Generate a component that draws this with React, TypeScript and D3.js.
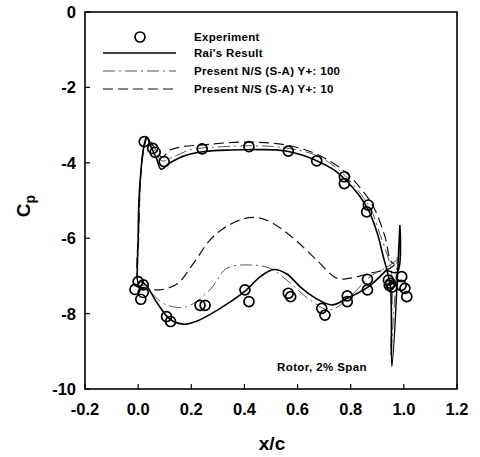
import React from "react";
import * as d3 from "d3";

// Measured pressure coefficients, rotor blade at 2% span
const expUpperX = [0.023, 0.055, 0.064, 0.098, 0.241, 0.417, 0.565, 0.672, 0.776, 0.776, 0.866, 0.86];
const expUpperCp = [-3.44, -3.62, -3.72, -3.97, -3.63, -3.57, -3.69, -3.95, -4.37, -4.55, -5.12, -5.3];
const expLowerX = [-0.012, 0.0, 0.019, 0.019, 0.01, 0.107, 0.122, 0.233, 0.252, 0.402, 0.417, 0.565, 0.574, 0.691, 0.703, 0.787, 0.787, 0.863, 0.863, 0.942, 0.95, 0.955, 0.945, 0.992, 0.99, 1.004, 1.011];
const expLowerCp = [-7.36, -7.15, -7.24, -7.44, -7.62, -8.08, -8.21, -7.78, -7.78, -7.37, -7.68, -7.46, -7.55, -7.86, -8.04, -7.53, -7.68, -7.09, -7.37, -7.11, -7.2, -7.3, -7.25, -7.02, -7.25, -7.33, -7.55];

// Rai's result: pressure side from trailing edge to leading edge, suction side back, trailing-edge spike
const raiX = [0.935, 0.866, 0.785, 0.73, 0.67, 0.61, 0.56, 0.51, 0.46, 0.4, 0.3, 0.22, 0.17, 0.12, 0.07, 0.03, 0.008, 0.0, 0.0, 0.003, 0.012, 0.022, 0.032, 0.05, 0.07, 0.086, 0.12, 0.18, 0.25, 0.35, 0.45, 0.55, 0.62, 0.68, 0.74, 0.78, 0.83, 0.87, 0.9, 0.923, 0.94, 0.95, 0.955, 0.985, 0.975, 0.935];
const raiCp = [-6.84, -7.29, -7.6, -7.77, -7.6, -7.29, -6.95, -6.83, -7.02, -7.42, -7.9, -8.2, -8.28, -8.15, -7.7, -7.25, -7.15, -7.2, -6.0, -5.0, -4.1, -3.55, -3.32, -3.6, -3.9, -4.17, -4.0, -3.8, -3.7, -3.66, -3.65, -3.68, -3.8, -3.97, -4.2, -4.45, -4.85, -5.3, -5.87, -6.5, -6.95, -7.3, -9.4, -5.65, -6.9, -6.84];

// Present N/S (S-A), Y+ = 100
const y100X = [0.973, 0.94, 0.873, 0.797, 0.722, 0.647, 0.559, 0.496, 0.421, 0.333, 0.27, 0.18, 0.1, 0.05, 0.02, 0.005, 0.003, 0.01, 0.02, 0.032, 0.06, 0.09, 0.13, 0.2, 0.3, 0.45, 0.55, 0.65, 0.72, 0.78, 0.84, 0.88, 0.91, 0.94, 0.955, 0.95, 0.975];
const y100Cp = [-6.58, -6.75, -7.02, -7.55, -7.9, -7.64, -7.11, -6.8, -6.71, -6.8, -7.37, -7.82, -7.75, -7.45, -7.25, -7.3, -5.8, -4.3, -3.6, -3.35, -3.65, -3.95, -3.85, -3.65, -3.58, -3.55, -3.6, -3.75, -4.0, -4.35, -4.85, -5.3, -5.9, -6.5, -7.0, -9.1, -6.5];

// Present N/S (S-A), Y+ = 10
const y10X = [0.965, 0.948, 0.873, 0.797, 0.747, 0.672, 0.584, 0.496, 0.44, 0.39, 0.321, 0.27, 0.208, 0.15, 0.11, 0.082, 0.04, 0.006, 0.004, 0.012, 0.024, 0.034, 0.06, 0.09, 0.12, 0.17, 0.233, 0.4, 0.55, 0.647, 0.72, 0.785, 0.84, 0.885, 0.929, 0.95, 0.965];
const y10Cp = [-6.7, -6.8, -6.93, -7.06, -7.06, -6.58, -6.0, -5.56, -5.45, -5.5, -5.74, -6.05, -6.67, -7.2, -7.33, -7.37, -7.35, -7.3, -5.5, -4.1, -3.55, -3.35, -3.58, -3.85, -3.66, -3.57, -3.53, -3.45, -3.52, -3.7, -3.95, -4.28, -4.7, -5.16, -5.96, -6.6, -6.7];

const xTicks = [-0.2, 0.0, 0.2, 0.4, 0.6, 0.8, 1.0, 1.2];
const yTicks = [0, -2, -4, -6, -8, -10];

const legendLabels = [
  "Experiment",
  "Rai's Result",
  "Present N/S (S-A) Y+: 100",
  "Present N/S (S-A) Y+: 10",
];

const FONT = "'Liberation Sans', Arial, sans-serif";

export default function App() {
  const x = d3.scaleLinear().domain([-0.2, 1.2]).range([85, 457]);
  const y = d3.scaleLinear().domain([0, -10]).range([12, 389]);

  const line = d3
    .line<[number, number]>()
    .x((d) => x(d[0]))
    .y((d) => y(d[1]))
    .curve(d3.curveCatmullRom.alpha(0.5));

  const zip = (xs: number[], ys: number[]) => xs.map((v, i) => [v, ys[i]] as [number, number]);

  const raiPath = line(zip(raiX, raiCp)) || "";
  const y100Path = line(zip(y100X, y100Cp)) || "";
  const y10Path = line(zip(y10X, y10Cp)) || "";
  const expPts = [...zip(expUpperX, expUpperCp), ...zip(expLowerX, expLowerCp)];

  const [x0, x1] = x.range();
  const [yTop, yBot] = y.range();

  const legendY = [37, 53, 71, 89];
  const legX0 = 103;
  const legX1 = 176;

  return (
    <svg
      width={480}
      height={457}
      style={{ position: "absolute", left: 0, top: 0, background: "#fff" }}
      fontFamily={FONT}
    >
      <rect x={0} y={0} width={480} height={457} fill="#fff" />

      {/* curves */}
      <path d={y10Path} fill="none" stroke="#111" strokeWidth={1.2} strokeDasharray="10,5" />
      <path d={y100Path} fill="none" stroke="#444" strokeWidth={0.9} strokeDasharray="12,4,2,4" />
      <path d={raiPath} fill="none" stroke="#000" strokeWidth={1.6} />

      {/* experiment */}
      {expPts.map((p, i) => (
        <circle key={i} cx={x(p[0])} cy={y(p[1])} r={5} fill="none" stroke="#000" strokeWidth={1.7} />
      ))}

      {/* frame */}
      <rect x={x0} y={yTop} width={x1 - x0} height={yBot - yTop} fill="none" stroke="#000" strokeWidth={1.6} />

      {/* x axis ticks and labels */}
      {xTicks.map((t) => (
        <g key={"x" + t}>
          <line x1={x(t)} x2={x(t)} y1={yBot} y2={yBot - 5} stroke="#000" strokeWidth={1.2} />
          <text x={x(t)} y={415} textAnchor="middle" fontSize={16.5} fontWeight="bold">
            {d3.format(".1f")(t).replace("−", "-")}
          </text>
        </g>
      ))}

      {/* y axis ticks and labels */}
      {yTicks.map((t) => (
        <g key={"y" + t}>
          <line x1={x0} x2={x0 + 5} y1={y(t)} y2={y(t)} stroke="#000" strokeWidth={1.2} />
          <text x={76} y={y(t) + 6} textAnchor="end" fontSize={16.5} fontWeight="bold">
            {String(t)}
          </text>
        </g>
      ))}

      {/* axis titles */}
      <text x={272} y={450} textAnchor="middle" fontSize={19} fontWeight="bold">
        x/c
      </text>
      <text transform="translate(30,206) rotate(-90)" textAnchor="middle" fontSize={19} fontWeight="bold">
        C<tspan fontSize={14} dy={5}>p</tspan>
      </text>

      {/* legend */}
      <circle cx={140} cy={legendY[0]} r={5} fill="none" stroke="#000" strokeWidth={1.7} />
      <line x1={legX0} x2={legX1} y1={legendY[1]} y2={legendY[1]} stroke="#000" strokeWidth={1.6} />
      <line x1={legX0} x2={legX1} y1={legendY[2]} y2={legendY[2]} stroke="#444" strokeWidth={0.9} strokeDasharray="12,4,2,4" />
      <line x1={legX0} x2={legX1} y1={legendY[3]} y2={legendY[3]} stroke="#111" strokeWidth={1.2} strokeDasharray="10,5" />
      {legendLabels.map((s, i) => (
        <text key={s} x={194} y={legendY[i] + 4} fontSize={11.5} fontWeight="bold" letterSpacing={0.3}>
          {s}
        </text>
      ))}

      <text x={277} y={371} fontSize={11.5} fontWeight="bold" letterSpacing={0.4}>
        Rotor, 2% Span
      </text>
    </svg>
  );
}
